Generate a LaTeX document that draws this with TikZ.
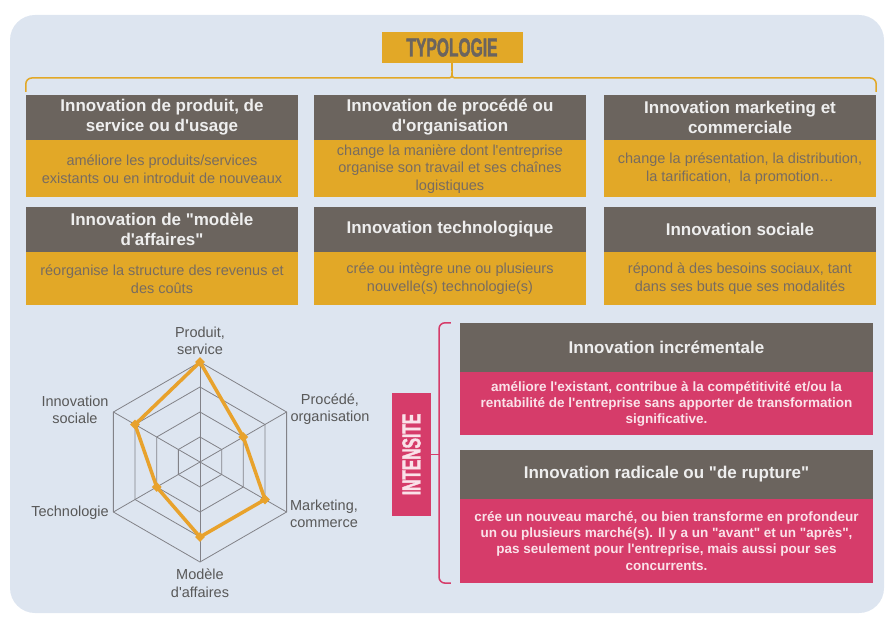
\documentclass[tikz,border=0pt]{standalone}
\usepackage{fontspec}
\setmainfont{Liberation Sans}[Ligatures=TeXOff]
\newfontfamily\condfont{Liberation Sans Bold}[FakeStretch=0.6,FakeBold=1.5,Ligatures=TeXOff]
\usepackage{xcolor}
\usepackage{tikz}
\usetikzlibrary{positioning, shapes.geometric}
\definecolor{bgblue}{RGB}{221, 229, 240}
\definecolor{hdrgrey}{RGB}{107, 100, 94}
\definecolor{hdrtext}{RGB}{238, 238, 238}
\definecolor{typogold}{RGB}{226, 168, 39}
\definecolor{goldtext}{RGB}{120, 108, 96}
\definecolor{intpink}{RGB}{214, 60, 106}
\definecolor{pinktext}{RGB}{250, 226, 233}
\definecolor{gridgrey}{RGB}{130, 130, 136}
\definecolor{radarorange}{RGB}{232, 162, 44}
\definecolor{labelgrey}{RGB}{88, 88, 88}
\newcommand{\hdrfont}{\fontsize{17}{20}\selectfont\bfseries}
\newcommand{\goldfont}{\fontsize{14.5}{17.7}\selectfont}
\newcommand{\pinkfont}{\fontsize{13.5}{16.3}\selectfont\bfseries}

\begin{document}
\begin{tikzpicture}[x=1pt, y=-1pt,
    hdr/.style={fill=hdrgrey, text=hdrtext, font=\hdrfont, align=center, inner sep=0pt, minimum width=272pt, minimum height=45pt},
    gbody/.style={fill=typogold, text=goldtext, font=\goldfont, align=center, inner sep=0pt, minimum width=272pt},
    phdr/.style={hdr, minimum width=413pt, minimum height=49pt},
    pbody/.style={fill=intpink, text=pinktext, font=\pinkfont, align=center, inner sep=0pt, minimum width=413pt},
    goldline/.style={typogold, line width=1.5pt},
    pinkline/.style={intpink, line width=1.5pt},
    gridline/.style={gridgrey, line width=0.8pt},
    datapt/.style={diamond, fill=radarorange, inner sep=0pt, minimum size=10pt},
    axlabel/.style={text=labelgrey, font=\fontsize{14.5}{17.5}\selectfont, align=center, inner sep=0pt}]
        \useasboundingbox (0,0) rectangle (885,617);
        % 背景
        \fill[bgblue, rounded corners=25pt] (10,15) rectangle (884,613);

        % 类型
        \node[fill=typogold, text=hdrgrey, minimum width=141pt, minimum height=31pt, inner sep=0pt, font=\condfont\fontsize{26}{26}\selectfont] (typo) at (452,47.5) {TYPOLOGIE};

        \node[hdr] (h1) at (162,117.5) {Innovation de produit, de\\service ou d'usage};
        \node[gbody, minimum height=57pt, below=0pt of h1] (b1) {améliore les produits/services\\existants ou en introduit de nouveaux};
        \node[hdr] (h2) at (450,117.5) {Innovation de procédé ou\\d'organisation};
        \node[gbody, minimum height=57pt, below=0pt of h2] (b2) {change la manière dont l'entreprise\\organise son travail et ses chaînes\\logistiques};
        \node[hdr] (h3) at (740,117.5) {Innovation marketing et\\commerciale};
        \node[gbody, minimum height=57pt, below=0pt of h3] (b3) {change la présentation, la distribution,\\la tarification,\ \ la promotion…};

        \node[hdr] (h4) at (162,229.5) {Innovation de "modèle\\d'affaires"};
        \node[gbody, minimum height=53pt, below=0pt of h4] (b4) {réorganise la structure des revenus et\\des coûts};
        \node[hdr] (h5) at (450,229.5) {Innovation technologique};
        \node[gbody, minimum height=53pt, below=0pt of h5] (b5) {crée ou intègre une ou plusieurs\\nouvelle(s) technologie(s)};
        \node[hdr] (h6) at (740,229.5) {Innovation sociale};
        \node[gbody, minimum height=53pt, below=0pt of h6] (b6) {répond à des besoins sociaux, tant\\dans ses buts que ses modalités};

        % 括号
        \coordinate (brL) at ([yshift=3pt]h1.north west);
        \coordinate (brR) at ([yshift=3pt]h3.north east);
        \coordinate (brtip) at (452,78);
        \draw[goldline, rounded corners=6pt] (brL) |- ([xshift=-6pt]brtip);
        \draw[goldline, rounded corners=6pt] (brR) |- ([xshift=6pt]brtip);
        \draw[goldline] ([xshift=-6pt]brtip) .. controls (brtip) .. ([yshift=7pt]brtip)
            .. controls (brtip) .. ([xshift=6pt]brtip);
        \draw[goldline] ([yshift=7pt]brtip) -- (typo.south);

        % 雷达图
        \coordinate (ctr) at (200,462);
        \begin{scope}[shift={(ctr)}]
            \foreach \r in {25,50,75,100}
                \draw[gridline] (-90:\r) -- (-30:\r) -- (30:\r) -- (90:\r) -- (150:\r) -- (210:\r) -- cycle;
            \foreach \a in {-90,-30,30,90,150,210}
                \draw[gridline] (0,0) -- (\a:100);
            \draw[radarorange, line width=3.5pt, line join=round]
                (-90:100) -- (-30:50) -- (30:75) -- (90:75) -- (150:50) -- (210:75) -- cycle;
            \node[datapt] (d1) at (-90:100) {};
            \node[datapt] (d2) at (-30:50) {};
            \node[datapt] (d3) at (30:75) {};
            \node[datapt] (d4) at (90:75) {};
            \node[datapt] (d5) at (150:50) {};
            \node[datapt] (d6) at (210:75) {};
        \end{scope}
        \node[axlabel] (lprod) at (200,341) {Produit,\\service};
        \node[axlabel] (lproc) at (330,409) {Procédé,\\organisation};
        \node[axlabel] (lmark) at (324,514) {Marketing,\\commerce};
        \node[axlabel] (lmod) at (200,583) {Modèle\\d'affaires};
        \node[axlabel] (ltech) at (70,513) {Technologie};
        \node[axlabel] (lsoc) at (75,410) {Innovation\\sociale};

        % 强度
        \node[fill=intpink, text=pinktext, minimum width=123pt, minimum height=39pt, inner sep=0pt, rotate=90, font=\condfont\fontsize{26}{26}\selectfont] (intens) at (411.5,454.5) {INTENSITE};

        \node[phdr] (ph1) at (666.5,347.5) {Innovation incrémentale};
        \node[pbody, minimum height=63pt, below=0pt of ph1] (pb1) {améliore l'existant, contribue à la compétitivité et/ou la\\rentabilité de l'entreprise sans apporter de transformation\\significative.};
        \node[phdr] (ph2) at (666.5,474) {Innovation radicale ou "de rupture"};
        \node[pbody, minimum height=84pt, below=0pt of ph2] (pb2) {crée un nouveau marché, ou bien transforme en profondeur\\un ou plusieurs marché(s). Il y a un "avant" et un "après",\\pas seulement pour l'entreprise, mais aussi pour ses\\concurrents.};

        \coordinate (ptop) at ([xshift=-9pt]ph1.north west);
        \coordinate (pbot) at ([xshift=-9pt]pb2.south west);
        \coordinate (ptip) at (439,454.5);
        \draw[pinkline, rounded corners=6pt] (ptop) -| (ptip) |- (pbot);
        \draw[pinkline] (ptip) -- (intens.south);

    \end{tikzpicture}
\end{document}
